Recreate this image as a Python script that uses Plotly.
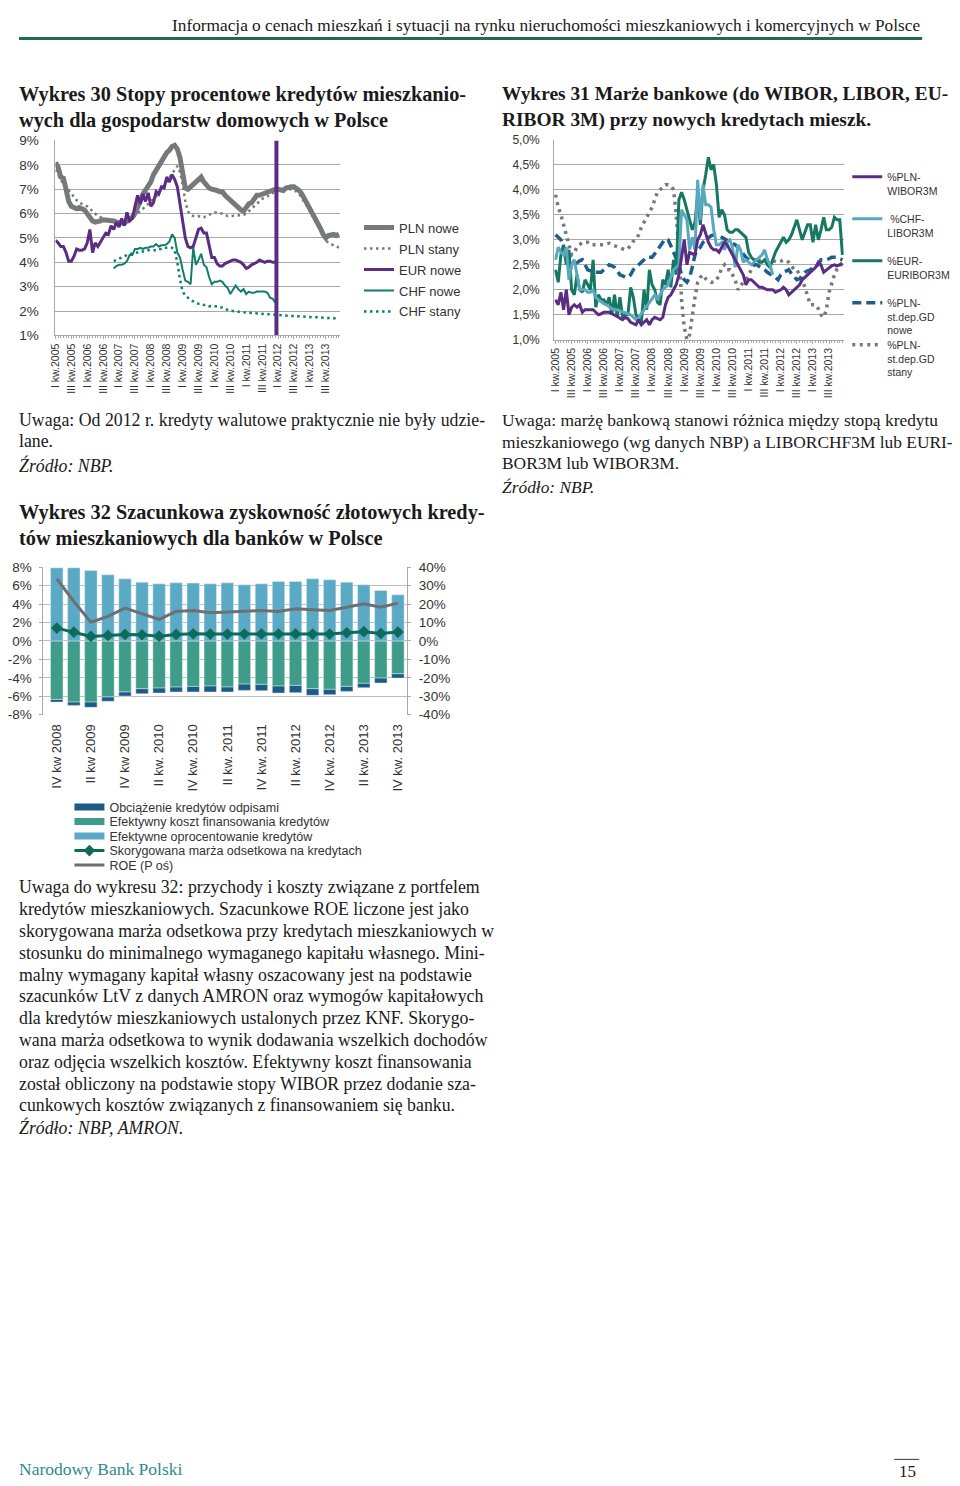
import plotly.graph_objects as go

# page geometry (target picture is 960 x 1486); measured placement of the page in the photo
FIG_W, FIG_H = 960, 1486
PHOTO_X0, PHOTO_Y0, PHOTO_S = 15.5, 14.5, 0.99

# ---------------- Wykres 30: data (monthly, Jan 2005 = month 0) ----------------
tick_months_30 = [0, 6, 12, 18, 24, 30, 36, 42, 48, 54, 60, 66, 72, 78, 84, 90, 96, 102]
tick_labels_30 = ["I kw.2005", "III kw.2005", "I kw.2006", "III kw.2006", "I kw.2007", "III kw.2007",
                  "I kw.2008", "III kw.2008", "I kw.2009", "III kw.2009", "I kw.2010", "III kw.2010",
                  "I kw.2011", "III kw.2011", "I kw.2012", "III kw.2012", "I kw.2013", "III kw.2013"]
y_ticks_30 = [1, 2, 3, 4, 5, 6, 7, 8, 9]
y_ticktext_30 = ["1%", "2%", "3%", "4%", "5%", "6%", "7%", "8%", "9%"]

pln_nowe = [8.1, 7.9, 7.5, 7.45, 7.0, 6.5, 6.3, 6.25, 6.2, 6.25,
            6.2, 6.15, 6.0, 5.85, 5.7, 5.65, 5.65, 5.7, 5.75, 5.75,
            5.75, 5.72, 5.7, 5.65, 5.65, 5.6, 5.6, 5.7, 5.75, 5.85,
            6.0, 6.2, 6.5, 6.8, 6.95, 7.1, 7.3, 7.6, 7.8, 8.0,
            8.2, 8.35, 8.5, 8.6, 8.75, 8.8, 8.65, 8.3, 7.6, 7.05,
            7.0, 7.1, 7.2, 7.3, 7.35, 7.5, 7.3, 7.15, 7.05, 7.0,
            7.0, 6.95, 6.9, 6.9, 6.75, 6.65, 6.5, 6.4, 6.3, 6.2,
            6.15, 6.1, 6.3, 6.4, 6.45, 6.6, 6.75, 6.75, 6.8, 6.85,
            6.9, 6.95, 7.0, 7.0, 7.0, 6.95, 6.95, 7.05, 7.1, 7.1,
            7.1, 7.05, 6.95, 6.8, 6.6, 6.4, 6.25, 6.1, 5.9, 5.65,
            5.4, 5.15, 5.0, 5.1, 5.15, 5.15, 5.1, 5.15]
pln_stany = [7.8, 7.6, 7.4, 7.2, 7.1, 6.95, 6.8, 6.65, 6.55, 6.45,
             6.4, 6.35, 6.3, 6.2, 6.1, 6.0, 5.9, 5.85, 5.8, 5.78,
             5.75, 5.72, 5.7, 5.68, 5.66, 5.65, 5.66, 5.7, 5.75, 5.8,
             5.9, 6.0, 6.1, 6.2, 6.3, 6.4, 6.5, 6.6, 6.7, 6.85,
             7.0, 7.15, 7.3, 7.45, 7.6, 7.75, 7.95, 7.7, 7.2, 6.5,
             6.1, 5.95, 5.9, 5.9, 5.9, 5.85, 5.85, 5.9, 5.95, 6.0,
             6.05, 6.05, 6.0, 6.0, 5.95, 5.9, 5.9, 5.9, 5.9, 5.92,
             5.95, 5.95, 6.0, 6.1, 6.2, 6.3, 6.4, 6.5, 6.6, 6.65,
             6.7, 6.8, 6.85, 6.9, 6.95, 6.95, 6.95, 7.0, 7.0, 7.0,
             6.95, 6.9, 6.8, 6.65, 6.5, 6.3, 6.1, 5.9, 5.7, 5.5,
             5.25, 5.05, 4.9, 4.8, 4.75, 4.7, 4.65, 4.6]
eur_nowe = [4.9, 4.8, 4.65, 4.65, 4.4, 4.05, 4.05, 4.25, 4.55, 4.5,
            4.5, 4.55, 4.8, 5.35, 4.4, 4.8, 4.65, 4.85, 5.05, 5.2,
            5.15, 5.5, 5.35, 5.65, 5.45, 5.8, 5.5, 6.05, 5.7, 5.8,
            6.3, 6.75, 6.4, 6.8, 6.5, 6.85, 6.3, 6.45, 6.9, 6.8,
            7.1, 7.05, 7.5, 7.3, 7.6, 7.4, 7.1, 6.4, 5.7, 5.0,
            4.65, 4.6, 4.65, 5.05, 5.35, 5.4, 5.2, 5.2, 4.7, 4.2,
            4.2, 3.95, 3.85, 3.85, 3.95, 4.0, 4.05, 4.1, 4.1, 4.05,
            4.0, 3.9, 3.75, 3.8, 3.9, 3.95, 4.0, 4.1, 4.05, 4.0,
            4.05, 4.05, 4.0, 4.0]
eur_break_month = 83.4   # thick purple vertical bar across the plot
chf_start_month = 22
chf_nowe = [3.75, 3.85, 3.9, 3.9, 3.95, 4.05, 4.3, 4.3,
            4.55, 4.55, 4.6, 4.55, 4.6, 4.6, 4.65, 4.65, 4.75, 4.65,
            4.7, 4.7, 4.75, 4.85, 5.15, 5.0, 4.4, 4.2, 3.7, 3.25,
            3.2, 3.1, 4.6, 3.9, 4.1, 4.35, 3.9, 3.8, 3.4, 3.1,
            3.2, 3.2, 3.25, 3.2, 3.05, 2.95, 2.7, 2.85, 3.05, 2.9,
            2.8, 2.9, 2.7, 2.8, 2.75, 2.75, 2.8, 2.8, 2.8, 2.8,
            2.75, 2.55, 2.5, 2.35]
chf_stany = [4.05, 4.1, 4.15, 4.2, 4.25, 4.3, 4.35, 4.35,
             4.4, 4.4, 4.45, 4.45, 4.45, 4.5, 4.5, 4.5, 4.5, 4.55,
             4.55, 4.6, 4.6, 4.6, 4.6, 4.5, 4.0, 3.3, 2.8, 2.65,
             2.55, 2.45, 2.4, 2.35, 2.3, 2.3, 2.25, 2.25, 2.2, 2.2,
             2.2, 2.2, 2.15, 2.15, 2.1, 2.05, 2.0, 2.0, 1.98, 1.96,
             1.95, 1.95, 1.94, 1.93, 1.92, 1.92, 1.9, 1.9, 1.88, 1.87,
             1.86, 1.85, 1.84, 1.83, 1.82, 1.82, 1.81, 1.81, 1.8, 1.8,
             1.8, 1.79, 1.78, 1.78, 1.77, 1.76, 1.76, 1.75, 1.75, 1.74,
             1.73, 1.73, 1.72, 1.72, 1.71, 1.71, 1.7, 1.7]

# ---------------- Wykres 31: data ----------------
tick_months_31 = tick_months_30
tick_labels_31 = tick_labels_30
y_ticks_31 = [1.0, 1.5, 2.0, 2.5, 3.0, 3.5, 4.0, 4.5, 5.0]
y_ticktext_31 = ["1,0%", "1,5%", "2,0%", "2,5%", "3,0%", "3,5%", "4,0%", "4,5%", "5,0%"]

m_wibor = [1.8, 1.7, 1.95, 1.6, 2.0, 1.5, 1.65, 1.7, 1.65, 1.7,
           1.55, 1.6, 1.6, 1.6, 1.6, 1.55, 1.5, 1.52, 1.55, 1.55,
           1.55, 1.52, 1.5, 1.47, 1.43, 1.4, 1.45, 1.42, 1.35, 1.32,
           1.3, 1.4, 1.3, 1.35, 1.4, 1.3, 1.4, 1.45, 1.42, 1.4,
           1.45, 1.7, 1.85, 1.9, 2.0, 2.1, 2.3, 2.7, 3.0, 2.5,
           2.75, 2.72, 2.7, 3.0, 3.1, 3.3, 3.1, 2.95, 2.85, 2.8,
           2.8, 2.75, 2.85, 2.95, 2.9, 2.8, 2.7, 2.6, 2.5, 2.4,
           2.3, 2.1, 2.2, 2.2, 2.15, 2.1, 2.05, 2.05, 2.02, 2.0,
           2.0, 2.0, 1.95, 1.97, 2.0, 2.05, 2.0, 1.9, 1.95, 2.0,
           2.05, 2.1, 2.2, 2.25, 2.3, 2.35, 2.4, 2.45, 2.55, 2.5,
           2.35, 2.4, 2.45, 2.48, 2.5, 2.48, 2.5, 2.5]
m_chf = [2.6, 2.85, 2.75, 2.7, 2.85, 2.2, 2.5, 2.6, 2.3, 2.0,
         2.0, 2.0, 1.95, 1.95, 2.0, 1.85, 1.8, 1.75, 1.72, 1.7,
         1.65, 1.62, 1.6, 1.6, 1.58, 1.56, 1.55, 1.52, 1.5, 1.45,
         1.4, 1.45, 1.52, 1.6, 1.68, 1.75, 1.82, 1.9, 1.8, 1.9,
         2.0, 2.05, 2.1, 2.25, 2.4, 2.45, 2.5, 3.6, 3.5, 3.4,
         2.8, 3.05, 2.8, 4.2, 3.4, 4.1, 3.7, 3.7, 3.65, 3.2,
         2.9, 2.9, 2.95, 2.8, 2.95, 3.0, 2.85, 2.45, 2.9, 2.8,
         2.55, 2.6, 2.55, 2.5, 2.55, 2.6, 2.65, 2.7, 2.8, 2.6,
         2.5, 2.3]
m_eur = [2.4, 2.15, 2.7, 2.9, 2.5, 2.8, 2.0, 1.9, 2.3, 2.0,
         1.95, 2.2, 2.1, 2.0, 2.6, 1.65, 1.9, 1.8, 1.8, 1.7,
         1.85, 1.5, 1.9, 1.45, 1.85, 1.45, 1.5, 1.5, 2.05, 1.85,
         1.5, 1.4, 1.35, 2.0, 1.6, 2.4, 2.1, 2.0, 1.75, 1.7,
         2.2, 2.1, 2.4, 2.05, 2.6, 2.3, 3.8, 3.95, 3.8, 3.6,
         3.4, 3.2, 3.35, 3.9, 3.3, 4.0, 4.3, 4.65, 4.4, 4.5,
         4.1, 3.45, 3.6, 3.5, 3.2, 3.15, 3.15, 3.2, 3.2, 3.15,
         3.1, 3.05, 2.75, 2.65, 2.6, 2.6, 2.55, 2.55, 2.6, 2.5,
         2.45, 2.6, 2.75, 2.85, 2.95, 3.05, 2.95, 3.0, 3.1, 3.25,
         3.4, 3.2, 3.0, 3.15, 3.3, 3.3, 2.95, 3.3, 3.0, 3.2,
         3.45, 3.2, 3.2, 3.25, 3.45, 3.4, 3.4, 2.7]
m_dep_nowe = [3.1, 3.05, 3.0, 2.85, 2.7, 2.6, 2.45, 2.5, 2.55, 2.58,
              2.6, 2.5, 2.4, 2.38, 2.36, 2.35, 2.35, 2.35, 2.4, 2.45,
              2.5, 2.48, 2.45, 2.38, 2.3, 2.28, 2.25, 2.25, 2.3, 2.4,
              2.45, 2.5, 2.55, 2.62, 2.65, 2.65, 2.65, 2.72, 2.8, 2.9,
              2.95, 3.02, 3.0, 2.88, 2.75, 2.65, 2.5, 2.3, 2.2, 2.15,
              2.25, 2.45, 2.7, 2.8, 2.85, 2.95, 3.0, 3.05, 3.08, 3.1,
              3.1, 3.08, 3.05, 3.03, 3.0, 2.97, 2.93, 2.9, 2.85, 2.78,
              2.7, 2.65, 2.6, 2.55, 2.5, 2.5, 2.47, 2.45, 2.4, 2.35,
              2.32, 2.3, 2.25, 2.2, 2.3, 2.35, 2.38, 2.4, 2.32, 2.25,
              2.2, 2.22, 2.3, 2.35, 2.38, 2.4, 2.45, 2.48, 2.5, 2.6,
              2.6, 2.6, 2.62, 2.65, 2.65, 2.65, 2.62, 2.6]
m_dep_stany = [3.9, 3.65, 3.5, 3.3, 3.1, 2.85, 2.7, 2.75, 2.85, 2.9,
               2.95, 2.95, 2.95, 2.9, 2.9, 2.9, 2.9, 2.9, 2.9, 2.92,
               2.93, 2.9, 2.88, 2.85, 2.83, 2.82, 2.8, 2.82, 2.9, 2.97,
               3.0, 3.1, 3.25, 3.35, 3.45, 3.55, 3.65, 3.8, 3.95, 4.0,
               4.05, 4.1, 4.1, 4.08, 4.0, 3.5, 2.8, 1.8, 1.25, 1.0,
               1.1, 1.5, 1.85, 2.15, 2.25, 2.3, 2.22, 2.18, 2.15, 2.15,
               2.2, 2.28, 2.45, 2.5, 2.4, 2.4, 2.3, 2.2, 2.0, 2.08,
               2.15, 2.2, 2.3, 2.38, 2.5, 2.55, 2.58, 2.6, 2.6, 2.6,
               2.6, 2.58, 2.56, 2.55, 2.57, 2.6, 2.58, 2.55, 2.48, 2.4,
               2.4, 2.3, 2.2, 2.05, 1.85, 1.7, 1.7, 1.7, 1.62, 1.5,
               1.45, 1.6, 1.95, 2.15, 2.3, 2.42, 2.5, 2.55]

# ---------------- Wykres 32: data (quarterly) ----------------
quarters = ["IV kw 2008", "I kw 2009", "II kw 2009", "III kw 2009", "IV kw 2009",
            "I kw. 2010", "II kw. 2010", "III kw. 2010", "IV kw. 2010",
            "I kw. 2011", "II kw. 2011", "III kw. 2011", "IV kw. 2011",
            "I kw. 2012", "II kw. 2012", "III kw. 2012", "IV kw. 2012",
            "I kw. 2013", "II kw. 2013", "III kw. 2013", "IV kw. 2013"]
quarter_ticks = ["IV kw 2008", "II kw 2009", "IV kw 2009", "II kw. 2010", "IV kw. 2010",
                 "II kw. 2011", "IV kw. 2011", "II kw. 2012", "IV kw. 2012", "II kw. 2013", "IV kw. 2013"]
oprocentowanie = [7.93, 7.93, 7.64, 7.17, 6.74, 6.37, 6.19, 6.3, 6.27, 6.19, 6.3,
                  6.09, 6.19, 6.45, 6.45, 6.74, 6.63, 6.37, 6.09, 5.47, 5.0]
koszt_fin = [-6.34, -6.63, -6.63, -6.08, -5.54, -5.18, -5.11, -5.0, -4.93, -4.89, -5.0,
             -4.68, -4.71, -4.89, -4.82, -5.18, -5.25, -4.93, -4.6, -4.03, -3.56]
odpisy = [-0.29, -0.36, -0.57, -0.47, -0.44, -0.54, -0.54, -0.54, -0.61, -0.65, -0.54,
          -0.68, -0.69, -0.76, -0.79, -0.72, -0.58, -0.54, -0.47, -0.54, -0.47]
marza = [1.39, 0.96, 0.49, 0.6, 0.71, 0.67, 0.52, 0.71, 0.78, 0.74, 0.74,
         0.75, 0.76, 0.75, 0.76, 0.74, 0.74, 0.89, 1.0, 0.81, 0.96]
roe = [33.7, 21.4, 10.2, 13.3, 17.8, 14.7, 11.7, 16.0, 16.5, 15.3, 15.6,
       16.2, 16.5, 16.0, 17.4, 16.9, 16.5, 18.3, 20.1, 18.3, 20.5]
y_ticks_32 = [-8, -6, -4, -2, 0, 2, 4, 6, 8]
y_ticktext_32 = ["-8%", "-6%", "-4%", "-2%", "0%", "2%", "4%", "6%", "8%"]
y2_ticks_32 = [-40, -30, -20, -10, 0, 10, 20, 30, 40]
y2_ticktext_32 = ["-40%", "-30%", "-20%", "-10%", "0%", "10%", "20%", "30%", "40%"]

# ---------------- colours ----------------
GRAY = "#77787B"
PURPLE = "#5B2C83"
TEAL = "#0F7F6B"
LBLUE = "#5AA8C0"
DTEAL = "#167763"
DBLUE = "#1D5E8C"
C_OPR = "#5BAAC5"
C_KOSZT = "#3E9C89"
C_ODP = "#1C5B86"
C_MARZA = "#0E6B5A"
C_ROE = "#6E6F72"
AX = "Liberation Sans"
SERIF = "Liberation Serif"
TXT = "#1a1a1a"


def px(x):
    return (x - PHOTO_X0) / PHOTO_S / FIG_W


def py(y):
    return 1 - (y - PHOTO_Y0) / PHOTO_S / FIG_H


fig = go.Figure()

# ---- Wykres 30 traces ----
def l30(name, x, y, color, width, dash, leg):
    fig.add_trace(go.Scatter(x=x, y=y, name=name, mode="lines", xaxis="x", yaxis="y",
                             line=dict(color=color, width=width, dash=dash), legend=leg))

l30("CHF stany", list(range(chf_start_month, chf_start_month + len(chf_stany))), chf_stany, TEAL, 2.5, "2.5px,3.5px", "legend5")
l30("PLN stany", list(range(len(pln_stany))), pln_stany, GRAY, 2.5, "2.5px,3.5px", "legend2")
l30("CHF nowe", list(range(chf_start_month, chf_start_month + len(chf_nowe))), chf_nowe, TEAL, 2, "solid", "legend4")
l30("PLN nowe", list(range(len(pln_nowe))), pln_nowe, GRAY, 5, "solid", "legend")
l30("EUR nowe", list(range(len(eur_nowe))), eur_nowe, PURPLE, 3, "solid", "legend3")
fig.add_trace(go.Scatter(x=[eur_break_month, eur_break_month], y=[y_ticks_30[0], y_ticks_30[-1]],
                         mode="lines", line=dict(color=PURPLE, width=4), xaxis="x", yaxis="y",
                         showlegend=False, hoverinfo="skip"))

# ---- Wykres 31 traces ----
def l31(name, y, color, width, dash, leg):
    fig.add_trace(go.Scatter(x=list(range(len(y))), y=y, name=name, mode="lines", xaxis="x2", yaxis="y2",
                             line=dict(color=color, width=width, dash=dash), legend=leg))

l31("%PLN-<br>st.dep.GD<br>stany", m_dep_stany, GRAY, 3.5, "3px,4.5px", "legend10")
l31("%PLN-<br>st.dep.GD<br>nowe", m_dep_nowe, DBLUE, 3.5, "9px,5px", "legend9")
l31("%EUR-<br>EURIBOR3M", m_eur, DTEAL, 3, "solid", "legend8")
l31(" %CHF-<br>LIBOR3M", m_chf, LBLUE, 3, "solid", "legend7")
l31("%PLN-<br>WIBOR3M", m_wibor, PURPLE, 3, "solid", "legend6")

# ---- Wykres 32 traces ----
fig.add_trace(go.Bar(x=quarters, y=koszt_fin, name="Efektywny koszt finansowania kredytów", marker_color=C_KOSZT,
                     xaxis="x3", yaxis="y3", showlegend=False))
fig.add_trace(go.Bar(x=quarters, y=odpisy, name="Obciążenie kredytów odpisami", marker_color=C_ODP,
                     xaxis="x3", yaxis="y3", showlegend=False))
fig.add_trace(go.Bar(x=quarters, y=oprocentowanie, name="Efektywne oprocentowanie kredytów", marker_color=C_OPR,
                     xaxis="x3", yaxis="y3", showlegend=False))
fig.add_trace(go.Scatter(x=quarters, y=roe, name="ROE (P oś)", mode="lines", line=dict(color=C_ROE, width=3),
                         xaxis="x3", yaxis="y4", legend="legend15"))
fig.add_trace(go.Scatter(x=quarters, y=marza, name="Skorygowana marża odsetkowa na kredytach", mode="lines+markers",
                         line=dict(color=C_MARZA, width=3), marker=dict(symbol="diamond", size=9, color=C_MARZA),
                         xaxis="x3", yaxis="y3", legend="legend14"))
# legend swatches for the bar series
for nm, col, lg in [("Obciążenie kredytów odpisami", C_ODP, "legend11"),
                    ("Efektywny koszt finansowania kredytów", C_KOSZT, "legend12"),
                    ("Efektywne oprocentowanie kredytów", C_OPR, "legend13")]:
    fig.add_trace(go.Scatter(x=[None], y=[None], name=nm, mode="lines", line=dict(color=col, width=7),
                             xaxis="x3", yaxis="y3", legend=lg))

# ---- axes ----
grid = "#A9A9A9"
tickfont_small = dict(family=AX, size=10.5, color="#333333")
fig.update_layout(
    width=FIG_W, height=FIG_H, margin=dict(l=0, r=0, t=0, b=0), paper_bgcolor="white", plot_bgcolor="white",
    barmode="relative", bargap=0.27, showlegend=True,
    xaxis=dict(domain=[px(52), px(337)], range=[0, 107.4], tickvals=tick_months_30, ticktext=tick_labels_30,
               tickangle=-90, tickfont=tickfont_small, showgrid=False, zeroline=False, showline=True,
               linecolor=grid, linewidth=1, ticks="outside", ticklen=3, tickcolor=grid,
               minor=dict(dtick=1, ticks="outside", ticklen=2, tickcolor=grid, showgrid=False),
               anchor="y"),
    yaxis=dict(domain=[py(335), py(140)], range=[1, 9], tickvals=y_ticks_30, ticktext=y_ticktext_30,
               tickfont=dict(family=AX, size=13.5, color="#333333"), showgrid=True, gridcolor=grid,
               zeroline=False, showline=True, linecolor=grid, ticks="", ticklabelstandoff=13, anchor="x"),
    xaxis2=dict(domain=[px(551.5), px(841.5)], range=[-0.5, 107.5], tickvals=tick_months_31, ticktext=tick_labels_31,
                tickangle=-90, tickfont=tickfont_small, showgrid=False, zeroline=False, showline=True,
                linecolor=grid, linewidth=1, ticks="outside", ticklen=3, tickcolor=grid,
                minor=dict(dtick=1, ticks="outside", ticklen=2, tickcolor=grid, showgrid=False),
                anchor="y2"),
    yaxis2=dict(domain=[py(339.3), py(139.3)], range=[1, 5], tickvals=y_ticks_31, ticktext=y_ticktext_31,
                tickfont=dict(family=AX, size=12, color="#333333"), showgrid=True, gridcolor=grid,
                zeroline=False, showline=True, linecolor=grid, ticks="", ticklabelstandoff=11, anchor="x2"),
    xaxis3=dict(domain=[px(40), px(404)], type="category", range=[-0.78, 20.53], tickvals=quarter_ticks,
                ticktext=quarter_ticks, tickangle=-90, tickfont=dict(family=AX, size=13, color="#333333"),
                showgrid=False, zeroline=False, showline=False, ticks="", ticklabelstandoff=6, anchor="y3"),
    yaxis3=dict(domain=[py(714.3), py(566.7)], range=[-8, 8], tickvals=y_ticks_32, ticktext=y_ticktext_32,
                tickfont=dict(family=AX, size=13.5, color="#333333"), showgrid=True, gridcolor="#BDBDBD",
                zeroline=False, showline=True, linecolor=grid, ticks="outside", ticklen=3, tickcolor=grid,
                ticklabelstandoff=5, anchor="x3"),
    yaxis4=dict(domain=[py(714.3), py(566.7)], range=[-40, 40], tickvals=y2_ticks_32, ticktext=y2_ticktext_32,
                tickfont=dict(family=AX, size=13.5, color="#333333"), showgrid=False, zeroline=False,
                showline=True, linecolor=grid, ticks="outside", ticklen=3, tickcolor=grid, ticklabelstandoff=5,
                overlaying="y3", side="right", anchor="x3"),
)

# ---- legends ----
def leg(key, x_px, y_px, size, yanchor="middle", valign="middle"):
    fig.update_layout({key: dict(x=px(x_px), y=py(y_px), xanchor="left", yanchor=yanchor, valign=valign,
                                 bgcolor="rgba(0,0,0,0)", borderwidth=0, tracegroupgap=0, itemwidth=30,
                                 font=dict(family=AX, size=size, color="#333333"))})

for k, yy in zip(["legend", "legend2", "legend3", "legend4", "legend5"], [227, 248, 269, 290, 311]):
    leg(k, 356, yy, 13)
for k, yy in zip(["legend6", "legend7", "legend8", "legend9", "legend10"], [163, 205, 247, 289, 331]):
    leg(k, 845, yy, 10.5, yanchor="top", valign="top")
for k, yy in zip(["legend11", "legend12", "legend13", "legend14", "legend15"], [807, 821.5, 836, 850.5, 865]):
    leg(k, 66, yy, 12.5)

# ---- page text ----
LEFT = 13.5  # leftmost reachable text position on the page


def text(s, x, y, size=17.8, anchor="left", italic=False, bold=False, color=TXT, family=SERIF):
    if italic:
        s = "<i>" + s + "</i>"
    if bold:
        s = "<b>" + s + "</b>"
    fig.add_annotation(x=px(x), y=py(y), xref="paper", yref="paper", text=s, showarrow=False,
                       xanchor=anchor, yanchor="middle", font=dict(family=family, size=size, color=color))

text("Informacja o cenach mieszkań i sytuacji na rynku nieruchomości mieszkaniowych i komercyjnych w Polsce",
     920, 25, size=17.3, anchor="right")
fig.add_shape(type="line", xref="paper", yref="paper", x0=0, x1=px(920), y0=py(38), y1=py(38),
              line=dict(color="#1F6B53", width=3))

text("Wykres 30 Stopy procentowe kredytów mieszkanio-", LEFT, 94, size=20.3, bold=True)
text("wych dla gospodarstw domowych w Polsce", LEFT, 120, size=20.3, bold=True)
text("Wykres 31 Marże bankowe (do WIBOR, LIBOR, EU-", 497, 94, size=19.4, bold=True)
text("RIBOR 3M) przy nowych kredytach mieszk.", 497, 120, size=19.4, bold=True)

text("Uwaga: Od 2012 r. kredyty walutowe praktycznie nie były udzie-", LEFT, 420)
text("lane.", LEFT, 441)
text("Źródło: NBP.", LEFT, 465, italic=True)

text("Wykres 32 Szacunkowa zyskowność złotowych kredy-", LEFT, 512, size=20.3, bold=True)
text("tów mieszkaniowych dla banków w Polsce", LEFT, 538, size=20.3, bold=True)

note31 = ["Uwaga: marżę bankową stanowi różnica między stopą kredytu",
          "mieszkaniowego (wg danych NBP) a LIBORCHF3M lub EURI-",
          "BOR3M lub WIBOR3M."]
for i, s in enumerate(note31):
    text(s, 497, 420 + i * 21.5, size=17.4)
text("Źródło: NBP.", 497, 487, size=17.4, italic=True)

note32 = ["Uwaga do wykresu 32: przychody i koszty związane z portfelem",
          "kredytów mieszkaniowych. Szacunkowe ROE liczone jest jako",
          "skorygowana marża odsetkowa przy kredytach mieszkaniowych w",
          "stosunku do minimalnego wymaganego kapitału własnego. Mini-",
          "malny wymagany kapitał własny oszacowany jest na podstawie",
          "szacunków LtV z danych AMRON oraz wymogów kapitałowych",
          "dla kredytów mieszkaniowych ustalonych przez KNF. Skorygo-",
          "wana marża odsetkowa to wynik dodawania wszelkich dochodów",
          "oraz odjęcia wszelkich kosztów. Efektywny koszt finansowania",
          "został obliczony na podstawie stopy WIBOR przez dodanie sza-",
          "cunkowych kosztów związanych z finansowaniem się banku."]
for i, s in enumerate(note32):
    text(s, LEFT, 887 + i * 21.8)
text("Źródło: NBP, AMRON.", LEFT, 887 + len(note32) * 21.8, italic=True)

text("Narodowy Bank Polski", LEFT, 1469, size=17.5, color="#2E8C8A")
text("15", 905, 1471, size=17, anchor="center")
fig.add_shape(type="line", xref="paper", yref="paper", x0=px(892), x1=px(917), y0=py(1459), y1=py(1459),
              line=dict(color="#333333", width=1))

fig.write_html("out.html")
